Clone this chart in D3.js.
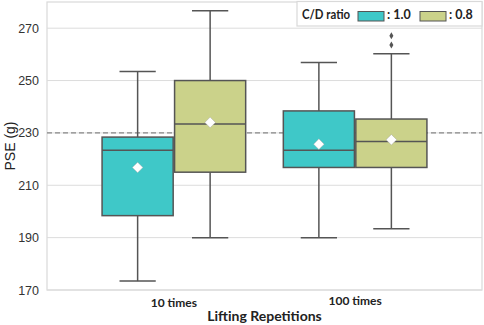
<!DOCTYPE html>
<html>
<head>
<meta charset="utf-8">
<script src="https://cdn.jsdelivr.net/npm/d3@7"></script>
<style>
  body { margin: 0; background: #fff; }
  svg { display: block; }
</style>
</head>
<body>
<svg width="484" height="325"></svg>
<script>
const categories = ["10 times", "100 times"];
const ratios = [": 1.0", ": 0.8"];
const colors = ["#3fc8c8", "#cbd28a"];
// [whiskerLow, q1, median, q3, whiskerHigh, mean] per ratio
const stats10 = [
    [173.4, 198.4, 223.4, 228.4, 253.5, 216.8],
    [190, 215, 233.4, 250, 276.7, 234]
];
const stats100 = [
    [190, 216.8, 223.4, 238.4, 256.9, 225.7],
    [193.4, 216.8, 226.7, 235.3, 260.2, 227.4]
];
const outliers100 = [[], [263.6, 267.1]];
const yTicks = [170, 190, 210, 230, 250, 270];
const refLine = 230;

const data = [];
[stats10, stats100].forEach((g, ci) => {
    g.forEach((s, hi) => {
        data.push({cat: ci, hue: hi, lo: s[0], q1: s[1], med: s[2], q3: s[3], hi: s[4], mean: s[5],
            out: ci == 1 ? outliers100[hi] : []});
    });
});

const margin = {top : 2, bottom : 35, left : 47, right : 2};
const width = 484;
const height = 325;
const svg = d3.select("svg");
const labelFont = "Lato, sans-serif";

const x = d3.scaleLinear()
    .domain([-0.7, 1.7])
    .range([margin.left, width - margin.right]);
const y = d3.scaleLinear()
    .domain([170, 280])
    .range([height - margin.bottom, margin.top]);

const boxW = x(0.4) - x(0);

// frame
svg.append("rect")
    .attr("x", margin.left)
    .attr("y", margin.top)
    .attr("width", width - margin.right - margin.left)
    .attr("height", height - margin.bottom - margin.top)
    .attr("fill", "none")
    .attr("stroke", "#d9d9d9")
    .attr("stroke-width", 1.2);

// grid
svg.append("g").selectAll("line").data(yTicks).enter().append("line")
    .attr("x1", margin.left).attr("x2", width - margin.right)
    .attr("y1", d => y(d)).attr("y2", d => y(d))
    .attr("stroke", "#dcdcdc").attr("stroke-width", 1);

const yAxis = svg.append("g")
    .attr("transform", `translate(${margin.left}, 0)`)
    .call(d3.axisLeft(y).tickValues(yTicks).tickSize(0).tickPadding(8));
yAxis.select(".domain").remove();
yAxis.selectAll("text")
    .attr("font-family", "Liberation Sans, Arial, sans-serif")
    .attr("font-size", 12.5)
    .attr("fill", "#333");

// reference line
svg.append("line")
    .attr("x1", margin.left).attr("x2", width - margin.right)
    .attr("y1", y(refLine)).attr("y2", y(refLine))
    .attr("stroke", "#888").attr("stroke-width", 1.3)
    .attr("stroke-dasharray", "5,3");

const stroke = "#555";
const boxes = svg.append("g").selectAll("g").data(data).enter().append("g");
boxes.each(function(d) {
    const g = d3.select(this);
    const cx = x(d.cat) + (d.hue == 0 ? -boxW / 2 : boxW / 2);
    g.append("line").attr("x1", cx).attr("x2", cx).attr("y1", y(d.hi)).attr("y2", y(d.q3))
        .attr("stroke", stroke).attr("stroke-width", 1.5);
    g.append("line").attr("x1", cx).attr("x2", cx).attr("y1", y(d.q1)).attr("y2", y(d.lo))
        .attr("stroke", stroke).attr("stroke-width", 1.5);
    g.append("line").attr("x1", cx - boxW / 4).attr("x2", cx + boxW / 4).attr("y1", y(d.hi)).attr("y2", y(d.hi))
        .attr("stroke", stroke).attr("stroke-width", 1.5);
    g.append("line").attr("x1", cx - boxW / 4).attr("x2", cx + boxW / 4).attr("y1", y(d.lo)).attr("y2", y(d.lo))
        .attr("stroke", stroke).attr("stroke-width", 1.5);
    g.append("rect")
        .attr("x", cx - boxW / 2 + 0.7).attr("width", boxW - 1.4)
        .attr("y", y(d.q3)).attr("height", y(d.q1) - y(d.q3))
        .attr("fill", colors[d.hue]).attr("stroke", stroke).attr("stroke-width", 1.5);
    g.append("line").attr("x1", cx - boxW / 2 + 0.7).attr("x2", cx + boxW / 2 - 0.7)
        .attr("y1", y(d.med)).attr("y2", y(d.med))
        .attr("stroke", stroke).attr("stroke-width", 1.5);
    g.append("path")
        .attr("d", d3.symbol(d3.symbolDiamond2, 72)())
        .attr("transform", `translate(${cx}, ${y(d.mean)})`)
        .attr("fill", "#fff").attr("stroke", "#999").attr("stroke-width", 0.4);
    g.selectAll(".out").data(d.out).enter().append("path")
        .attr("d", d3.symbol(d3.symbolDiamond, 14)())
        .attr("transform", o => `translate(${cx}, ${y(o)})`)
        .attr("fill", stroke);
});

// x labels
svg.append("g").selectAll("text").data(categories).enter().append("text")
    .attr("x", (d, i) => x(i))
    .attr("y", (d, i) => i == 0 ? 306.5 : 305)
    .attr("text-anchor", "middle")
    .attr("font-family", labelFont)
    .attr("font-weight", "bold")
    .attr("font-size", 12)
    .attr("fill", "#222")
    .text(d => d);

svg.append("text")
    .attr("x", (margin.left + width - margin.right) / 2)
    .attr("y", 320.5)
    .attr("text-anchor", "middle")
    .attr("font-family", labelFont)
    .attr("font-weight", "bold")
    .attr("font-size", 14)
    .attr("fill", "#222")
    .text("Lifting Repetitions");

svg.append("text")
    .attr("transform", `translate(15, ${(margin.top + height - margin.bottom) / 2}) rotate(-90)`)
    .attr("text-anchor", "middle")
    .attr("font-family", "Liberation Sans, Arial, sans-serif")
    .attr("font-size", 14)
    .attr("fill", "#222")
    .text("PSE (g)");

// legend
const leg = svg.append("g");
leg.append("rect")
    .attr("x", 297).attr("y", 1.5).attr("width", 185).attr("height", 24.5)
    .attr("fill", "#fff").attr("stroke", "#d9d9d9").attr("stroke-width", 1.2);
leg.append("text")
    .attr("x", 302).attr("y", 18.5)
    .attr("font-family", labelFont)
    .attr("font-weight", "bold").attr("font-size", 12.5)
    .attr("textLength", 48).attr("lengthAdjust", "spacingAndGlyphs")
    .attr("fill", "#222")
    .text("C/D ratio");
const legX = [358, 420];
ratios.forEach((r, i) => {
    leg.append("rect")
        .attr("x", legX[i]).attr("y", 11.5).attr("width", 26).attr("height", 9.5)
        .attr("fill", colors[i]).attr("stroke", stroke).attr("stroke-width", 1);
    leg.append("text")
        .attr("x", legX[i] + 29).attr("y", 19)
        .attr("font-family", labelFont)
        .attr("font-weight", "bold").attr("font-size", 12.5)
        .attr("fill", "#222")
        .text(r);
});
</script>
</body>
</html>
